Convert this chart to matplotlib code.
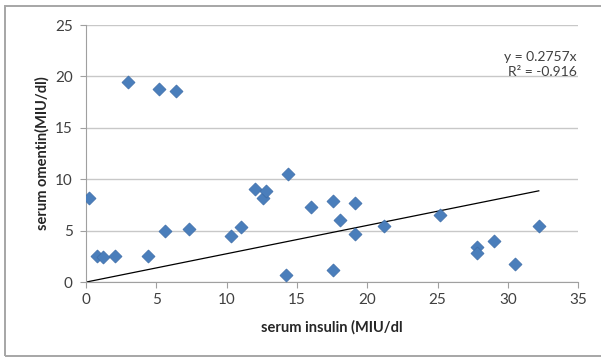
import matplotlib.pyplot as plt
import numpy as np
from matplotlib.patches import Rectangle

# serum insulin vs serum omentin values
insulin = [0.2, 0.8, 1.2, 2.1, 4.4, 3.0, 5.2, 6.4, 5.6, 7.3, 10.3, 11.0, 12.0, 12.6,
           12.8, 14.4, 14.2, 16.0, 17.6, 17.6, 18.1, 19.1, 19.1, 21.2, 25.2, 27.8,
           27.8, 29.0, 30.5, 32.2]
omentin = [8.2, 2.5, 2.4, 2.5, 2.5, 19.5, 18.8, 18.6, 4.95, 5.2, 4.5, 5.4, 9.1, 8.2,
           8.9, 10.5, 0.7, 7.3, 7.9, 1.2, 6.0, 7.7, 4.7, 5.5, 6.5, 3.4,
           2.8, 4.0, 1.8, 5.5]
slope = 0.2757
r2_text = "-0.916"

plt.rcParams['font.family'] = ['Lato', 'DejaVu Sans']

fig = plt.figure(figsize=(6.01, 3.58), dpi=100)
ax = fig.add_axes([0.143, 0.212, 0.819, 0.718])

# outer chart frame (open on the right, like the cropped original)
fig.patches.append(Rectangle((0.009, 0.006), 1.05, 0.977, transform=fig.transFigure,
                             fill=False, edgecolor='#a6a6a6', linewidth=1.4))

ax.scatter(insulin, omentin, marker='D', s=44, color='#4a7ebb', edgecolors='#3d6da8',
           linewidths=0.5, zorder=3)

x_fit = np.array([0, max(insulin)])
ax.plot(x_fit, slope * x_fit, color='black', linewidth=0.9, zorder=2)

ax.set_xlim(0, 35)
ax.set_ylim(0, 25)
ax.set_xticks(range(0, 36, 5))
ax.set_yticks(range(0, 26, 5))
ax.yaxis.grid(True, color='#c8c8c8', linewidth=1.0)
ax.set_axisbelow(True)

for side in ['top', 'right']:
    ax.spines[side].set_visible(False)
ax.spines['left'].set_color('#a0a0a0')
ax.spines['bottom'].set_color('#a0a0a0')
ax.tick_params(axis='both', colors='#a0a0a0', labelcolor='#404040', labelsize=11,
               length=4.5, direction='out')
ax.tick_params(axis='y', pad=5)

ax.set_xlabel('serum insulin (MIU/dl', fontsize=10.5, fontweight='bold', color='#262626',
              labelpad=9)
ax.set_ylabel('serum omentin(MIU/dl)', fontsize=10.5, fontweight='bold', color='#262626',
              labelpad=4)

ax.text(0.997, 0.90, f"y = {slope}x\nR\u00b2 = {r2_text}", transform=ax.transAxes,
        ha='right', va='top', fontsize=10, color='#404040', linespacing=1.3)

plt.savefig("out.png", dpi=100)
